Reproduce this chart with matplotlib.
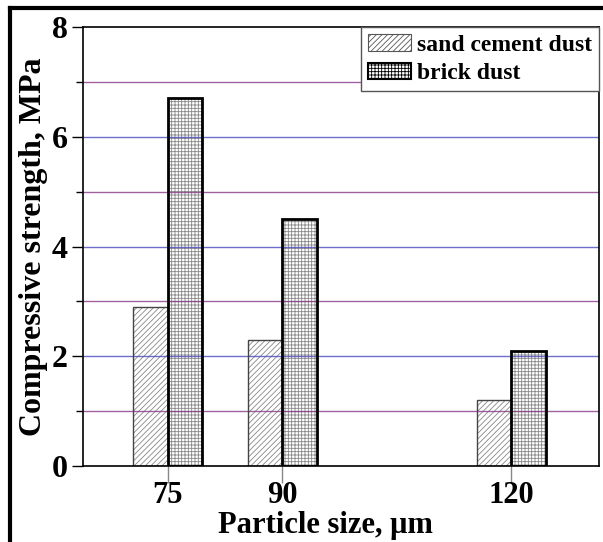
import matplotlib
matplotlib.use("Agg")
import matplotlib.pyplot as plt
from matplotlib.lines import Line2D
from matplotlib.patches import Patch
import numpy as np

sizes = [75, 90, 120]
sand_cement_dust = [2.9, 2.3, 1.2]
brick_dust = [6.7, 4.5, 2.1]
series_labels = ["sand cement dust", "brick dust"]
x_label = "Particle size, \u03bcm"
y_label = "Compressive strength, MPa"

plt.rcParams['font.family'] = ['Liberation Serif', 'DejaVu Serif']
plt.rcParams['font.weight'] = 'bold'
plt.rcParams['hatch.linewidth'] = 0.6

fig = plt.figure(figsize=(6.03, 5.42), dpi=100)
ax = fig.add_axes([0.1376, 0.1402, 0.8558, 0.8100])

w = 4.5
x = np.array(sizes, dtype=float)
# sand cement dust: hatch in gray, thin dark edge
ax.bar(x - w/2, sand_cement_dust, w, facecolor='white', edgecolor='#888888',
       hatch='//////', linewidth=0, zorder=3)
ax.bar(x - w/2, sand_cement_dust, w, facecolor='none', edgecolor='#444444',
       linewidth=1.0, zorder=5)
# brick dust: fine grid hatch, thick black edge
ax.bar(x + w/2, brick_dust, w, facecolor='white', edgecolor='#888888',
       hatch='+++++', linewidth=0, zorder=3)
ax.bar(x + w/2, brick_dust, w, facecolor='none', edgecolor='black',
       linewidth=2.0, zorder=5)

ax.set_xlim(63.9, 131.5)
ax.set_ylim(0, 8)
ax.set_xticks(sizes)
ax.set_xticklabels([str(s) for s in sizes])
ax.set_yticks([0, 2, 4, 6, 8])
ax.set_yticks([1, 3, 5, 7], minor=True)

for yv in [2, 4, 6]:
    ax.axhline(yv, color='#4a4ac0', linewidth=1.0, zorder=4, snap=True, alpha=0.8)
for yv in [1, 3, 5, 7]:
    ax.axhline(yv, color='#8a3a8a', linewidth=1.0, zorder=4, snap=True, alpha=0.8)

ax.tick_params(axis='y', which='major', direction='out', length=8, width=1.0,
               labelsize=23, pad=3)
ax.tick_params(axis='y', which='minor', direction='out', length=5, width=1.0)
ax.tick_params(axis='x', which='major', direction='out', length=12, width=1.0,
               color='#888888', labelsize=22, pad=-1)
for lab in ax.get_xticklabels() + ax.get_yticklabels():
    lab.set_fontweight('bold')

for s in ax.spines.values():
    s.set_linewidth(1.2)
    s.set_zorder(6)

ax.set_xlabel(x_label, fontsize=22, fontweight='bold')
ax.set_ylabel(y_label, fontsize=23, fontweight='bold')
ax.xaxis.set_label_coords(0.469, -0.103)
ax.yaxis.set_label_coords(-0.068, 0.5)

h1 = Patch(facecolor='white', edgecolor='#555555', hatch='//////', linewidth=0.8)
h2 = Patch(facecolor='white', edgecolor='black', hatch='+++++', linewidth=1.5)
leg = ax.legend([h1, h2], series_labels, loc='upper right', borderaxespad=0,
                fancybox=False, framealpha=1, edgecolor='#555555',
                prop={'family': 'Liberation Serif', 'weight': 'bold', 'size': 17},
                handlelength=1.8, handleheight=0.7, handletextpad=0.25,
                labelspacing=0.3, borderpad=0.3)
leg.get_frame().set_linewidth(1.0)
leg.set_zorder(7)

# outer frame lines (left and top)
fig.add_artist(Line2D([10/603, 10/603], [0, 1 - 8/542], color='black', linewidth=3,
                      transform=fig.transFigure))
fig.add_artist(Line2D([10/603, 1], [1 - 8/542, 1 - 8/542], color='black', linewidth=3,
                      transform=fig.transFigure))

fig.savefig('out.png', dpi=100)
